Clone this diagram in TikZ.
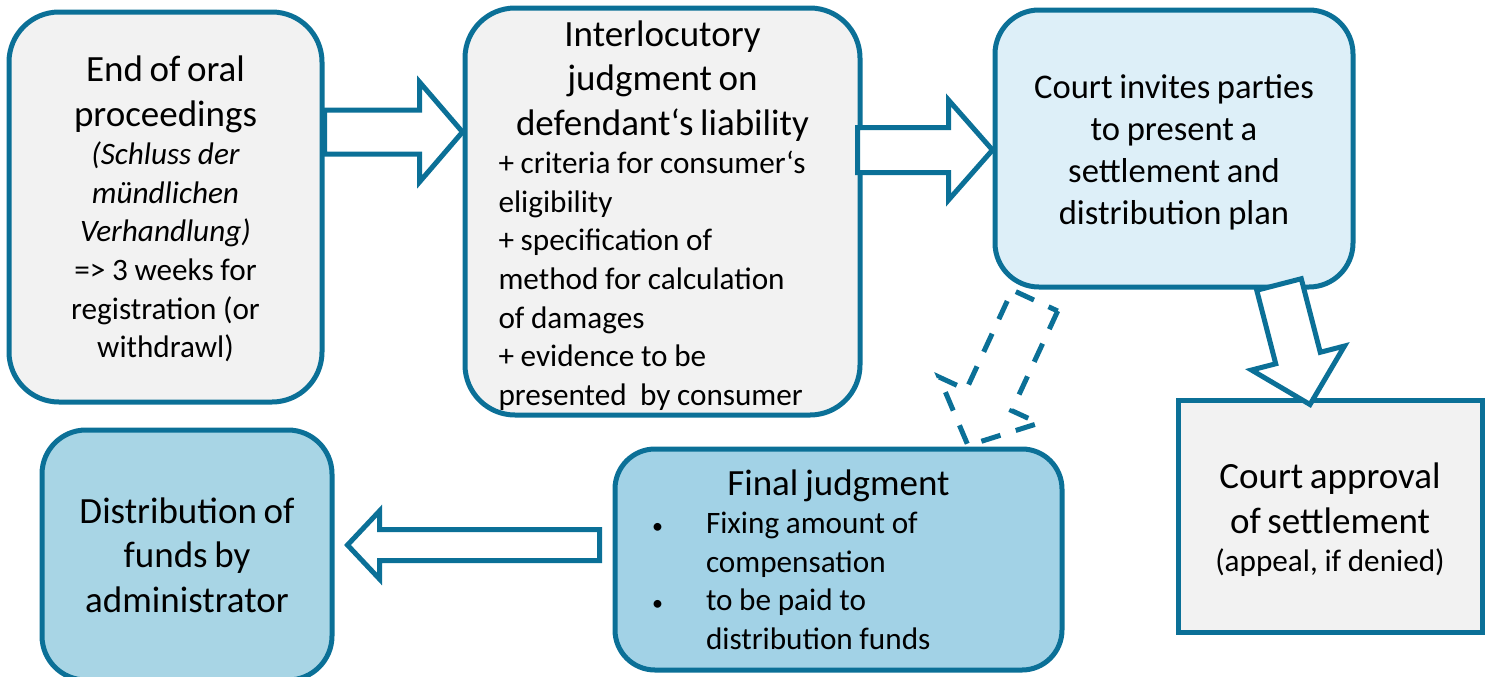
\documentclass[tikz,border=0pt]{standalone}
\usepackage{fontspec}
\setmainfont{Carlito}
\usepackage{tikz}
\usetikzlibrary{calc,positioning}
\definecolor{edge}{HTML}{0B7097}
\definecolor{paper}{HTML}{F2F2F2}
\definecolor{sky}{HTML}{DDEFF8}
\definecolor{aqua}{HTML}{A2D2E6}
\definecolor{aqualt}{HTML}{A8D5E5}
\newcommand{\bigtxt}{\fontsize{18.5}{22.2}\selectfont}
\newcommand{\midtxt}{\fontsize{17.3}{20.9}\selectfont}
\newcommand{\smalltxt}{\fontsize{15.6}{19.3}\selectfont}
\newcommand{\bul}[1]{\hangindent=28pt\hangafter=1\noindent\makebox[28pt][l]{\hspace{1pt}\fontsize{11}{11}\selectfont•}#1\par}
% block arrow: [opts]{from}{to}{half shaft}{half head}{head length}
\newcommand{\blockarrow}[6][]{%
  \coordinate (hb) at ($(#3)!#6!(#2)$);
  \draw[arrowline,#1] ($(#2)!#4!90:(#3)$) -- ($(hb)!#4!90:(#3)$) -- ($(hb)!#5!90:(#3)$) -- (#3)
    -- ($(hb)!#5!-90:(#3)$) -- ($(hb)!#4!-90:(#3)$) -- ($(#2)!#4!-90:(#3)$) -- cycle;}
\tikzset{
  box/.style={draw=edge,line width=2.5pt,inner sep=0pt,align=center},
  arrowline/.style={draw=edge,line width=2.5pt,fill=white,line join=miter},
}

\begin{document}
\begin{tikzpicture}[x=0.5pt,y=-0.5pt]
  \useasboundingbox (0,0) rectangle (1485,676);
  % stages
  \node[box,fill=paper,rounded corners=25pt,minimum width=156.5pt,minimum height=195pt,text width=150pt] (b1) at (165.5,207)
    {{\bigtxt End of oral\\proceedings\par}{\smalltxt\itshape (Schluss der\\mündlichen\\Verhandlung)\par}\smalltxt => 3 weeks for\\registration (or\\withdrawl)\par\kern-2pt};
  \node[box,fill=paper,rounded corners=25pt,minimum width=197.5pt,minimum height=203.5pt,text width=164pt,align=left] (b2) at (662.5,211.5)
    {{\centering\bigtxt Interlocutory\\judgment on\\defendant‘s liability\par}\smalltxt + criteria for consumer‘s\\eligibility\\+ specification of\\method for calculation\\of damages\\+ evidence to be\\presented\ \ by consumer\par\kern-4pt};
  \node[box,fill=sky,rounded corners=22pt,minimum width=179pt,minimum height=138.5pt,text width=170pt] (b3) at (1174,148.5)
    {\midtxt Court invites parties\\to present a\\settlement and\\distribution plan\par\kern-4pt};
  \node[box,fill=paper,minimum width=152pt,minimum height=116pt,text width=145pt] (b4) at (1330,516)
    {{\bigtxt Court approval\\of settlement\par}\smalltxt (appeal, if denied)\par\kern-4pt};
  \node[box,fill=aqua,rounded corners=20pt,minimum width=223.5pt,minimum height=110.5pt,text width=188.5pt,align=left] (b5) at (838.5,559.5)
    {{\centering\bigtxt Final judgment\par}\smalltxt\bul{Fixing amount of\newline compensation}\bul{to be paid to\newline distribution funds}};
  \node[box,fill=aqualt,rounded corners=22pt,minimum width=145pt,minimum height=125pt,text width=140pt] (b6) at (187,555)
    {\bigtxt Distribution of\\funds by\\administrator\par};
  % arrows
  \coordinate (a1s) at (b1.east |- 0,132);
  \coordinate (a1e) at (b2.west |- 0,132);
  \blockarrow{a1s}{a1e}{11pt}{25pt}{21.5pt}
  \coordinate (a2s) at ($(b2.east |- 0,150)+(-5,0)$);
  \coordinate (a2e) at (b3.west |- 0,150);
  \blockarrow{a2s}{a2e}{11.25pt}{25pt}{22pt}
  \coordinate (a3s) at ($(b3.south)+(105,-5)$);
  \coordinate (a3e) at ($(b4.north)+(-20,7)$);
  \blockarrow{a3s}{a3e}{11.5pt}{24pt}{24pt}
  \coordinate (a4s) at ($(b3.south)+(-139,11)$);
  \coordinate (a4e) at ($(b5.north)+(129.5,-1)$);
  \blockarrow[fill=none,dash pattern=on 10pt off 8pt]{a4s}{a4e}{12.5pt}{27.5pt}{25pt}
  \coordinate (a5s) at ($(b5.west |- 0,545)+(-13,0)$);
  \coordinate (a5e) at ($(b6.east |- 0,545)+(13,0)$);
  \blockarrow{a5s}{a5e}{7.75pt}{17pt}{16pt}
\end{tikzpicture}
\end{document}
